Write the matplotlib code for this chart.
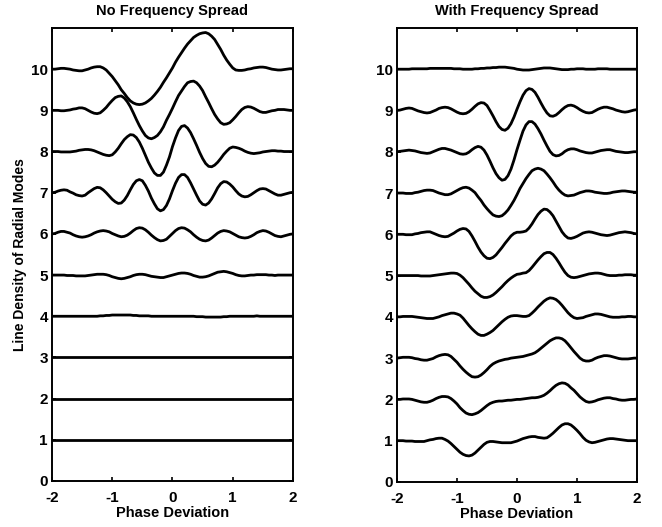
import matplotlib
matplotlib.use("Agg")
import matplotlib.pyplot as plt

# Phase deviation samples (x axis), shared by every trace
phase = [-2.00, -1.95, -1.90, -1.85, -1.80, -1.75, -1.70, -1.65, -1.60, -1.55,
         -1.50, -1.45, -1.40, -1.35, -1.30, -1.25, -1.20, -1.15, -1.10, -1.05,
         -1.00, -0.95, -0.90, -0.85, -0.80, -0.75, -0.70, -0.65, -0.60, -0.55,
         -0.50, -0.45, -0.40, -0.35, -0.30, -0.25, -0.20, -0.15, -0.10, -0.05,
         0.00, 0.05, 0.10, 0.15, 0.20, 0.25, 0.30, 0.35, 0.40, 0.45,
         0.50, 0.55, 0.60, 0.65, 0.70, 0.75, 0.80, 0.85, 0.90, 0.95,
         1.00, 1.05, 1.10, 1.15, 1.20, 1.25, 1.30, 1.35, 1.40, 1.45,
         1.50, 1.55, 1.60, 1.65, 1.70, 1.75, 1.80, 1.85, 1.90, 1.95,
         2.00]

mode_levels = [1, 2, 3, 4, 5, 6, 7, 8, 9, 10]

# Deviation of each trace from its baseline
# -- No frequency spread --
flat = [0.0, 0.0, 0.0, 0.0, 0.0, 0.0, 0.0, 0.0, 0.0, 0.0,
        0.0, 0.0, 0.0, 0.0, 0.0, 0.0, 0.0, 0.0, 0.0, 0.0,
        0.0, 0.0, 0.0, 0.0, 0.0, 0.0, 0.0, 0.0, 0.0, 0.0,
        0.0, 0.0, 0.0, 0.0, 0.0, 0.0, 0.0, 0.0, 0.0, 0.0,
        0.0, 0.0, 0.0, 0.0, 0.0, 0.0, 0.0, 0.0, 0.0, 0.0,
        0.0, 0.0, 0.0, 0.0, 0.0, 0.0, 0.0, 0.0, 0.0, 0.0,
        0.0, 0.0, 0.0, 0.0, 0.0, 0.0, 0.0, 0.0, 0.0, 0.0,
        0.0, 0.0, 0.0, 0.0, 0.0, 0.0, 0.0, 0.0, 0.0, 0.0,
        0.0]

no_spread = {
    1: flat,
    2: flat,
    3: flat,
    4: [0.0, 0.0, 0.0, 0.0, 0.0, 0.0, 0.0, 0.0, 0.0, 0.0,
        0.0, 0.0, 0.0, 0.0, 0.0, 0.0, 0.01, 0.01, 0.02, 0.02,
        0.03, 0.03, 0.03, 0.03, 0.03, 0.03, 0.03, 0.02, 0.02, 0.01,
        0.01, 0.01, 0.01, 0.0, 0.0, 0.0, 0.0, 0.0, 0.0, 0.0,
        0.0, 0.0, 0.0, 0.0, 0.0, 0.0, 0.0, 0.0, -0.01, -0.01,
        -0.01, -0.02, -0.02, -0.02, -0.02, -0.02, -0.02, -0.01, -0.01, 0.0,
        0.0, 0.0, 0.0, 0.0, 0.0, 0.0, 0.0, 0.0, 0.01, 0.0,
        0.0, 0.0, 0.0, 0.0, 0.0, 0.0, 0.0, 0.0, 0.0, 0.0,
        0.0],
    5: [0.0, 0.0, 0.0, 0.0, 0.0, -0.01, -0.01, -0.01, -0.02, -0.02,
        -0.02, -0.02, -0.01, 0.0, 0.01, 0.02, 0.02, 0.02, 0.01, -0.01,
        -0.04, -0.06, -0.08, -0.09, -0.08, -0.06, -0.04, -0.01, 0.01, 0.02,
        0.02, 0.01, -0.01, -0.03, -0.04, -0.05, -0.06, -0.06, -0.04, -0.02,
        0.0, 0.02, 0.04, 0.05, 0.05, 0.04, 0.02, -0.01, -0.03, -0.05,
        -0.05, -0.04, -0.02, 0.01, 0.04, 0.07, 0.08, 0.09, 0.08, 0.06,
        0.04, 0.01, -0.01, -0.02, -0.02, -0.01, 0.0, 0.0, 0.01, 0.01,
        0.01, 0.01, 0.0, 0.0, -0.01, 0.0, 0.0, 0.0, 0.0, 0.0,
        0.0],
    6: [0.0, 0.01, 0.04, 0.06, 0.06, 0.04, 0.02, -0.02, -0.05, -0.07,
        -0.08, -0.07, -0.05, -0.02, 0.02, 0.05, 0.07, 0.08, 0.07, 0.05,
        0.01, -0.02, -0.05, -0.07, -0.06, -0.03, 0.02, 0.08, 0.13, 0.15,
        0.14, 0.10, 0.04, -0.03, -0.09, -0.14, -0.17, -0.16, -0.13, -0.06,
        0.01, 0.08, 0.13, 0.15, 0.14, 0.10, 0.05, -0.02, -0.08, -0.13,
        -0.16, -0.17, -0.15, -0.10, -0.04, 0.02, 0.06, 0.08, 0.07, 0.05,
        0.01, -0.03, -0.07, -0.09, -0.10, -0.09, -0.06, -0.02, 0.03, 0.06,
        0.08, 0.07, 0.04, 0.0, -0.04, -0.06, -0.07, -0.05, -0.03, -0.01,
        0.0],
    7: [0.0, 0.01, 0.04, 0.06, 0.07, 0.06, 0.02, -0.01, -0.05, -0.07,
        -0.08, -0.06, 0.0, 0.05, 0.10, 0.13, 0.12, 0.07, 0.0, -0.08,
        -0.16, -0.22, -0.26, -0.25, -0.18, -0.07, 0.07, 0.20, 0.29, 0.32,
        0.29, 0.18, 0.04, -0.13, -0.27, -0.39, -0.44, -0.41, -0.31, -0.15,
        0.05, 0.23, 0.37, 0.44, 0.44, 0.37, 0.24, 0.09, -0.06, -0.20,
        -0.28, -0.30, -0.25, -0.15, -0.02, 0.12, 0.22, 0.27, 0.26, 0.21,
        0.14, 0.05, -0.03, -0.08, -0.10, -0.09, -0.05, 0.0, 0.05, 0.09,
        0.10, 0.09, 0.05, 0.01, -0.03, -0.06, -0.06, -0.04, -0.02, 0.0,
        0.01],
    8: [0.0, 0.0, 0.0, -0.01, -0.01, -0.01, -0.01, 0.0, 0.01, 0.03,
        0.04, 0.05, 0.05, 0.04, 0.02, -0.01, -0.04, -0.07, -0.09, -0.10,
        -0.08, -0.01, 0.08, 0.19, 0.29, 0.36, 0.41, 0.40, 0.34, 0.23,
        0.08, -0.09, -0.26, -0.40, -0.52, -0.58, -0.58, -0.50, -0.33, -0.13,
        0.12, 0.33, 0.51, 0.61, 0.63, 0.57, 0.46, 0.31, 0.15, -0.02,
        -0.17, -0.29, -0.36, -0.37, -0.33, -0.26, -0.17, -0.07, 0.01, 0.08,
        0.11, 0.10, 0.08, 0.05, 0.01, -0.02, -0.04, -0.05, -0.04, -0.03,
        -0.01, 0.0, 0.01, 0.02, 0.02, 0.01, 0.01, 0.0, 0.0, 0.0,
        0.0],
    9: [0.0, 0.0, 0.0, -0.01, -0.01, 0.0, 0.01, 0.03, 0.04, 0.06,
        0.06, 0.04, 0.0, -0.04, -0.07, -0.08, -0.06, 0.0, 0.07, 0.16,
        0.24, 0.31, 0.34, 0.35, 0.30, 0.21, 0.09, -0.06, -0.22, -0.37,
        -0.50, -0.61, -0.67, -0.69, -0.66, -0.61, -0.52, -0.40, -0.24, -0.10,
        0.05, 0.21, 0.36, 0.47, 0.58, 0.67, 0.70, 0.71, 0.67, 0.59,
        0.48, 0.33, 0.19, 0.04, -0.10, -0.21, -0.30, -0.34, -0.33, -0.30,
        -0.23, -0.15, -0.06, 0.02, 0.07, 0.09, 0.08, 0.05, 0.01, -0.03,
        -0.05, -0.05, -0.03, -0.01, 0.0, 0.02, 0.02, 0.02, 0.01, 0.0,
        0.0],
    10: [0.0, 0.0, 0.01, 0.02, 0.02, 0.01, 0.0, -0.02, -0.03, -0.04,
         -0.04, -0.02, 0.0, 0.03, 0.05, 0.06, 0.06, 0.03, -0.02, -0.10,
         -0.18, -0.28, -0.38, -0.50, -0.59, -0.69, -0.77, -0.82, -0.85, -0.86,
         -0.85, -0.82, -0.77, -0.71, -0.63, -0.54, -0.44, -0.32, -0.21, -0.09,
         0.03, 0.17, 0.29, 0.40, 0.51, 0.61, 0.69, 0.77, 0.82, 0.86,
         0.88, 0.89, 0.86, 0.80, 0.72, 0.60, 0.48, 0.34, 0.22, 0.12,
         0.03, -0.02, -0.03, -0.03, -0.02, 0.0, 0.01, 0.03, 0.04, 0.05,
         0.05, 0.04, 0.02, 0.0, -0.01, -0.02, -0.02, -0.01, 0.0, 0.01,
         0.01],
}

# -- With frequency spread --
with_spread = {
    1: [0.0, 0.0, 0.0, -0.01, -0.01, -0.01, -0.02, -0.02, -0.02, -0.02,
        0.0, 0.02, 0.03, 0.05, 0.06, 0.06, 0.03, -0.01, -0.07, -0.14,
        -0.21, -0.28, -0.33, -0.36, -0.37, -0.35, -0.30, -0.23, -0.16, -0.09,
        -0.04, -0.02, -0.02, -0.03, -0.04, -0.05, -0.05, -0.05, -0.05, -0.03,
        -0.01, 0.02, 0.05, 0.07, 0.09, 0.10, 0.10, 0.08, 0.07, 0.06,
        0.07, 0.12, 0.18, 0.25, 0.32, 0.38, 0.41, 0.41, 0.38, 0.32,
        0.25, 0.17, 0.08, 0.01, -0.03, -0.05, -0.04, -0.02, 0.0, 0.02,
        0.04, 0.05, 0.05, 0.04, 0.03, 0.02, 0.01, 0.0, 0.0, 0.0,
        0.0],
    2: [0.0, 0.0, 0.01, 0.01, 0.01, 0.0, -0.02, -0.04, -0.06, -0.07,
        -0.07, -0.05, -0.02, 0.02, 0.05, 0.07, 0.07, 0.06, 0.02, -0.04,
        -0.11, -0.20, -0.27, -0.33, -0.36, -0.37, -0.35, -0.32, -0.27, -0.21,
        -0.15, -0.10, -0.07, -0.05, -0.04, -0.04, -0.03, -0.02, -0.02, -0.01,
        0.0, 0.0, 0.01, 0.02, 0.03, 0.04, 0.04, 0.05, 0.07, 0.10,
        0.15, 0.21, 0.28, 0.34, 0.38, 0.40, 0.39, 0.35, 0.28, 0.22,
        0.14, 0.06, 0.0, -0.05, -0.07, -0.06, -0.04, -0.01, 0.01, 0.03,
        0.04, 0.04, 0.02, 0.01, -0.01, -0.02, -0.02, -0.01, 0.0, 0.0,
        0.01],
    3: [0.0, 0.01, 0.02, 0.02, 0.02, 0.01, -0.01, -0.02, -0.04, -0.05,
        -0.05, -0.03, -0.01, 0.03, 0.06, 0.08, 0.09, 0.08, 0.04, -0.03,
        -0.10, -0.19, -0.27, -0.34, -0.40, -0.45, -0.46, -0.45, -0.41, -0.35,
        -0.28, -0.20, -0.14, -0.10, -0.07, -0.05, -0.03, -0.02, 0.0, 0.01,
        0.02, 0.03, 0.04, 0.06, 0.08, 0.10, 0.13, 0.18, 0.24, 0.30,
        0.36, 0.42, 0.46, 0.49, 0.49, 0.47, 0.42, 0.34, 0.25, 0.16,
        0.08, 0.0, -0.05, -0.07, -0.07, -0.05, -0.01, 0.02, 0.04, 0.06,
        0.06, 0.05, 0.03, 0.01, -0.01, -0.02, -0.02, -0.02, -0.01, 0.0,
        0.0],
    4: [0.0, 0.0, 0.01, 0.01, 0.01, 0.01, 0.0, -0.01, -0.02, -0.03,
        -0.04, -0.04, -0.04, -0.02, 0.0, 0.03, 0.05, 0.07, 0.09, 0.09,
        0.07, 0.04, -0.03, -0.12, -0.21, -0.29, -0.36, -0.42, -0.45, -0.45,
        -0.42, -0.38, -0.33, -0.26, -0.19, -0.12, -0.06, -0.01, 0.02, 0.03,
        0.03, 0.02, 0.01, 0.01, 0.03, 0.09, 0.16, 0.24, 0.31, 0.38,
        0.43, 0.46, 0.45, 0.42, 0.36, 0.28, 0.19, 0.10, 0.03, -0.02,
        -0.04, -0.03, -0.02, 0.01, 0.03, 0.05, 0.07, 0.07, 0.06, 0.04,
        0.02, 0.0, -0.01, -0.01, -0.01, 0.0, 0.0, 0.01, 0.01, 0.0,
        0.0],
    5: [0.0, 0.0, 0.0, 0.0, 0.0, 0.0, 0.0, 0.0, -0.01, -0.01,
        -0.01, -0.01, 0.0, 0.01, 0.02, 0.03, 0.04, 0.05, 0.06, 0.06,
        0.05, 0.01, -0.05, -0.13, -0.21, -0.30, -0.38, -0.44, -0.50, -0.53,
        -0.53, -0.51, -0.47, -0.41, -0.34, -0.27, -0.19, -0.12, -0.06, -0.01,
        0.03, 0.04, 0.06, 0.07, 0.12, 0.20, 0.29, 0.38, 0.46, 0.53,
        0.56, 0.56, 0.51, 0.42, 0.31, 0.19, 0.08, 0.0, -0.04, -0.05,
        -0.04, -0.02, 0.0, 0.02, 0.04, 0.05, 0.06, 0.06, 0.05, 0.03,
        0.01, 0.0, 0.0, 0.0, 0.01, 0.01, 0.02, 0.02, 0.02, 0.01,
        0.01],
    6: [0.0, 0.0, 0.0, -0.01, -0.01, -0.01, 0.01, 0.02, 0.04, 0.05,
        0.06, 0.06, 0.03, 0.0, -0.03, -0.05, -0.06, -0.05, -0.01, 0.03,
        0.08, 0.12, 0.14, 0.13, 0.07, -0.04, -0.17, -0.31, -0.43, -0.52,
        -0.58, -0.59, -0.56, -0.50, -0.41, -0.32, -0.22, -0.13, -0.04, 0.02,
        0.05, 0.05, 0.06, 0.08, 0.15, 0.25, 0.37, 0.48, 0.56, 0.61,
        0.60, 0.54, 0.45, 0.32, 0.19, 0.06, -0.03, -0.09, -0.10, -0.08,
        -0.05, -0.01, 0.03, 0.05, 0.06, 0.05, 0.03, 0.01, -0.01, -0.02,
        -0.03, -0.02, 0.0, 0.02, 0.04, 0.05, 0.06, 0.05, 0.04, 0.02,
        0.01],
    7: [0.0, 0.0, 0.0, -0.01, -0.01, -0.01, 0.01, 0.02, 0.04, 0.06,
        0.07, 0.07, 0.06, 0.03, 0.0, -0.02, -0.04, -0.04, -0.02, 0.02,
        0.06, 0.10, 0.13, 0.14, 0.12, 0.07, 0.01, -0.09, -0.18, -0.29,
        -0.38, -0.46, -0.53, -0.56, -0.57, -0.55, -0.49, -0.41, -0.30, -0.18,
        -0.04, 0.11, 0.23, 0.35, 0.45, 0.54, 0.58, 0.60, 0.58, 0.54,
        0.46, 0.37, 0.27, 0.16, 0.07, 0.0, -0.05, -0.07, -0.06, -0.05,
        -0.02, 0.01, 0.03, 0.05, 0.05, 0.04, 0.02, 0.01, 0.0, -0.01,
        -0.01, 0.0, 0.02, 0.03, 0.04, 0.05, 0.05, 0.04, 0.03, 0.02,
        0.02],
    8: [0.0, 0.01, 0.02, 0.03, 0.04, 0.03, 0.02, 0.0, -0.02, -0.03,
        -0.04, -0.03, 0.0, 0.03, 0.06, 0.08, 0.08, 0.06, 0.04, 0.01,
        -0.02, -0.05, -0.06, -0.05, -0.01, 0.05, 0.10, 0.13, 0.11, 0.04,
        -0.08, -0.23, -0.39, -0.53, -0.63, -0.69, -0.67, -0.58, -0.42, -0.20,
        0.05, 0.28, 0.50, 0.65, 0.73, 0.73, 0.67, 0.56, 0.43, 0.28,
        0.14, 0.01, -0.07, -0.10, -0.09, -0.05, 0.01, 0.05, 0.07, 0.07,
        0.05, 0.02, 0.0, -0.02, -0.03, -0.03, -0.01, 0.01, 0.03, 0.04,
        0.05, 0.05, 0.03, 0.01, 0.0, -0.01, -0.02, -0.02, -0.01, 0.0,
        0.0],
    9: [0.0, 0.01, 0.03, 0.05, 0.06, 0.05, 0.02, -0.01, -0.03, -0.05,
        -0.06, -0.05, -0.02, 0.01, 0.05, 0.07, 0.08, 0.07, 0.04, 0.0,
        -0.04, -0.07, -0.08, -0.07, -0.03, 0.03, 0.10, 0.16, 0.19, 0.18,
        0.12, 0.0, -0.13, -0.27, -0.39, -0.46, -0.48, -0.43, -0.32, -0.16,
        0.03, 0.21, 0.37, 0.48, 0.53, 0.51, 0.44, 0.32, 0.18, 0.05,
        -0.06, -0.13, -0.14, -0.11, -0.05, 0.02, 0.08, 0.12, 0.13, 0.11,
        0.07, 0.02, -0.02, -0.05, -0.06, -0.05, -0.01, 0.03, 0.06, 0.08,
        0.08, 0.06, 0.04, 0.01, -0.01, -0.03, -0.04, -0.03, -0.01, 0.01,
        0.02],
    10: [0.0, 0.0, 0.0, 0.0, 0.0, 0.01, 0.01, 0.01, 0.01, 0.01,
         0.01, 0.02, 0.02, 0.02, 0.02, 0.02, 0.02, 0.02, 0.02, 0.01,
         0.01, 0.01, 0.0, 0.0, 0.0, 0.0, 0.01, 0.01, 0.02, 0.02,
         0.03, 0.03, 0.04, 0.04, 0.05, 0.05, 0.05, 0.04, 0.03, 0.02,
         0.0, -0.01, -0.02, -0.02, -0.02, -0.01, 0.0, 0.01, 0.02, 0.03,
         0.03, 0.03, 0.02, 0.01, 0.0, -0.01, -0.01, -0.01, 0.0, 0.0,
         0.01, 0.01, 0.01, 0.0, 0.0, 0.0, 0.0, 0.01, 0.01, 0.01,
         0.01, 0.0, 0.0, 0.0, 0.0, 0.0, 0.0, 0.0, 0.0, 0.0,
         0.0],
}

titles = ["No Frequency Spread", "With Frequency Spread"]
x_ticks = [-2, -1, 0, 1, 2]
y_ticks = [0, 1, 2, 3, 4, 5, 6, 7, 8, 9, 10]

plt.rcParams['font.family'] = ['Liberation Sans', 'DejaVu Sans']
plt.rcParams['font.weight'] = 'bold'
plt.rcParams['axes.unicode_minus'] = False

fig = plt.figure(figsize=(6.62, 5.27), dpi=100)
ax_left = fig.add_axes([0.0785, 0.0873, 0.3641, 0.8596])
ax_right = fig.add_axes([0.5997, 0.0855, 0.3625, 0.8615])

for ax, traces, title in zip([ax_left, ax_right], [no_spread, with_spread], titles):
    # stack the traces, each one sitting on its mode number
    for level in mode_levels:
        y = [level + d for d in traces[level]]
        ax.plot(phase, y, color='black', lw=2.0, solid_joinstyle='round')
    ax.set_xlim(-2, 2)
    ax.set_ylim(0, 11)
    ax.set_xticks(x_ticks)
    ax.set_yticks(y_ticks)
    ax.tick_params(direction='in', top=True, right=True, length=3, width=1.2,
                   labelsize=11)
    ax.tick_params(axis='x', pad=7)
    ax.tick_params(axis='y', pad=3)
    for lab in ax.get_xticklabels() + ax.get_yticklabels():
        lab.set_fontweight('bold')
    for spine in ax.spines.values():
        spine.set_linewidth(1.4)
    ax.set_title(title, fontsize=10.5, fontweight='bold', pad=9)
    ax.set_xlabel('Phase Deviation', fontsize=10.5, fontweight='bold', labelpad=1)

ax_left.set_ylabel('Line Density of Radial Modes', fontsize=10, fontweight='bold', labelpad=3)

plt.savefig('out.png', dpi=100)
